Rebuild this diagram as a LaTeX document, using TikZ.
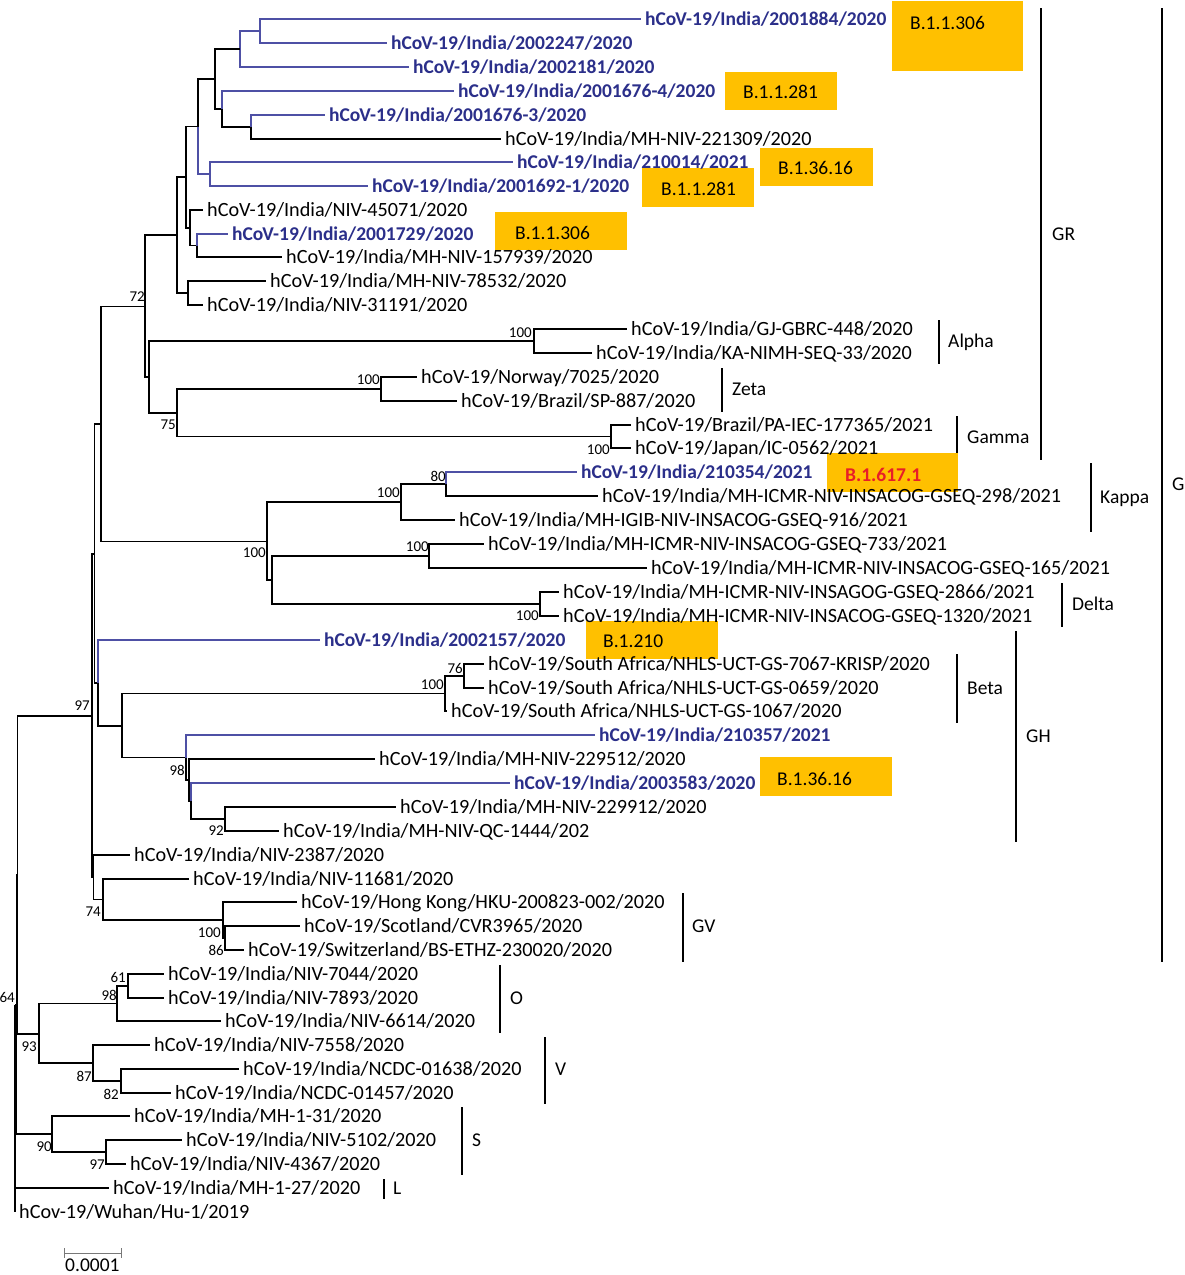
\documentclass[tikz,border=0pt]{standalone}
\usepackage{fontspec}
\setmainfont{Carlito}
\definecolor{bl}{RGB}{43,47,138}
\definecolor{bll}{RGB}{78,80,165}
\definecolor{orng}{RGB}{255,192,0}
\definecolor{redt}{RGB}{232,30,40}
\definecolor{scalegray}{RGB}{120,120,120}
\begin{document}
\begin{tikzpicture}[x=1pt,y=-1pt,
  br/.style={line width=1.4pt,black},
  bb/.style={line width=1.2pt,bll},
  lf/.style={anchor=base west,inner sep=0pt,xshift=4pt,yshift=-6.5pt,font=\fontsize{20.2}{22}\selectfont},
  lfb/.style={anchor=base west,inner sep=0pt,xshift=4pt,yshift=-6.5pt,font=\fontsize{19.5}{22}\selectfont\bfseries,text=bl},
  bs/.style={anchor=east,inner sep=0pt,font=\fontsize{15}{17}\selectfont},
  cl/.style={anchor=base west,inner sep=0pt,yshift=-6.5pt,font=\fontsize{19.5}{22}\selectfont},
  bar/.style={line width=1.3pt,black},
  obox/.style={fill=orng,draw=none,inner sep=0pt,anchor=north west},
  bt/.style={anchor=base west,inner sep=0pt,yshift=-6.5pt,font=\fontsize{19.5}{22}\selectfont}]
\useasboundingbox (0,0) rectangle (1184,1275);
\fill[white] (0,0) rectangle (1184,1275);

% ---------- orange lineage boxes ----------
\node[obox,minimum width=131pt,minimum height=70pt] (b1) at (892,1) {};
\node[obox,minimum width=112pt,minimum height=38pt] (b2) at (725,72) {};
\node[obox,minimum width=113pt,minimum height=38pt] (b3) at (760,148) {};
\node[obox,minimum width=112pt,minimum height=39pt] (b4) at (642,168) {};
\node[obox,minimum width=132pt,minimum height=38pt] (b5) at (495,212) {};
\node[obox,minimum width=131pt,minimum height=39pt] (b6) at (827,453) {};
\node[obox,minimum width=132pt,minimum height=38pt] (b7) at (586,621) {};
\node[obox,minimum width=132pt,minimum height=39pt] (b8) at (760,757) {};
\node[bt] (b1t) at (910,23) {B.1.1.306};
\node[bt] (b2t) at (743,92) {B.1.1.281};
\node[bt] (b3t) at (778,168) {B.1.36.16};
\node[bt] (b4t) at (661,189) {B.1.1.281};
\node[bt] (b5t) at (515,233) {B.1.1.306};
\node[bt,text=redt,font=\fontsize{19.5}{22}\selectfont\bfseries] (b6t) at (845,475) {B.1.617.1};
\node[bt] (b7t) at (603,641) {B.1.210};
\node[bt] (b8t) at (777,779) {B.1.36.16};

% ---------- leaf end points ----------
\coordinate (l1) at (641,19);
\coordinate (l2) at (387,43);
\coordinate (l3) at (409,67);
\coordinate (l4) at (454,91);
\coordinate (l5) at (325,115);
\coordinate (l6) at (501,139);
\coordinate (l7) at (513,162);
\coordinate (l8) at (368,186);
\coordinate (l9) at (203,210);
\coordinate (l10) at (228,234);
\coordinate (l11) at (282,257);
\coordinate (l12) at (266,281);
\coordinate (l13) at (203,305);
\coordinate (l14) at (627,329);
\coordinate (l15) at (592,353);
\coordinate (l16) at (417,377);
\coordinate (l17) at (457,401);
\coordinate (l18) at (631,425);
\coordinate (l19) at (631,448);
\coordinate (l20) at (577,472);
\coordinate (l21) at (598,496);
\coordinate (l22) at (455,520);
\coordinate (l23) at (484,544);
\coordinate (l24) at (647,568);
\coordinate (l25) at (559,592);
\coordinate (l26) at (559,616);
\coordinate (l27) at (320,640);
\coordinate (l28) at (484,664);
\coordinate (l29) at (484,688);
\coordinate (l30) at (447,711);
\coordinate (l31) at (595,735);
\coordinate (l32) at (375,759);
\coordinate (l33) at (510,783);
\coordinate (l34) at (396,807);
\coordinate (l35) at (279,831);
\coordinate (l36) at (130,855);
\coordinate (l37) at (189,879);
\coordinate (l38) at (297,902);
\coordinate (l39) at (300,926);
\coordinate (l40) at (244,950);
\coordinate (l41) at (164,974);
\coordinate (l42) at (164,998);
\coordinate (l43) at (221,1021);
\coordinate (l44) at (150,1045);
\coordinate (l45) at (239,1069);
\coordinate (l46) at (171,1093);
\coordinate (l47) at (130,1116);
\coordinate (l48) at (182,1140);
\coordinate (l49) at (126,1164);
\coordinate (l50) at (109,1188);
\coordinate (l51) at (15,1212);

% ---------- internal nodes ----------
\coordinate (nA) at (260,31);
\coordinate (nB) at (240,49);
\coordinate (nC) at (215,79);
\coordinate (nD) at (222,109);
\coordinate (nE) at (251,127);
\coordinate (nF) at (198,126.5);
\coordinate (nG) at (210,174);
\coordinate (nH) at (186,177);
\coordinate (nI) at (190,228);
\coordinate (nJ) at (197,245.5);
\coordinate (nK) at (177,235);
\coordinate (nL) at (188,293);
\coordinate (nM) at (145,306.5);
\coordinate (nN) at (149,377);
\coordinate (nAl) at (534,341);
\coordinate (nO) at (177,413);
\coordinate (nZe) at (381,389);
\coordinate (nGa) at (611,436.5);
\coordinate (nP) at (101,424);
\coordinate (nQ) at (267,541.5);
\coordinate (nR) at (401,502);
\coordinate (nS) at (446,484);
\coordinate (nT) at (272,580);
\coordinate (nU) at (429,556);
\coordinate (nV) at (540,604);
\coordinate (nG1) at (94.5,554);
\coordinate (nW) at (98,683);
\coordinate (nX) at (122,726);
\coordinate (nY) at (445,693.5);
\coordinate (nZ) at (464,676);
\coordinate (nAA) at (186,757.75);
\coordinate (nAB) at (189,780);
\coordinate (nAC) at (191,801);
\coordinate (nAD) at (225,819);
\coordinate (nG2) at (93.5,877.5);
\coordinate (nAE) at (103,899.5);
\coordinate (nAF) at (223,920);
\coordinate (nAG) at (225,938);
\coordinate (n97) at (92,716);
\coordinate (nR1) at (17.5,875);
\coordinate (nOV) at (39,1034);
\coordinate (nO98) at (117,1003.5);
\coordinate (nO61) at (128,986);
\coordinate (nV87) at (93,1063);
\coordinate (nV82) at (121,1081);
\coordinate (n64) at (16.5,1004.5);
\coordinate (nS90) at (52,1134);
\coordinate (nS97) at (106,1152);
\coordinate (nRoot) at (15,1004.5);

% ---------- branches ----------
\draw[bb] (nA) |- (l1);
\draw[bb] (nA) |- (l2);
\draw[bb] (nB) |- (nA);
\draw[bb] (nB) |- (l3);
\draw[br] (nC) |- (nB);
\draw[br] (nC) |- (nD);
\draw[bb] (nD) |- (l4);
\draw[br] (nD) |- (nE);
\draw[bb] (nE) |- (l5);
\draw[br] (nE) |- (l6);
\draw[br] (nF) |- (nC);
\draw[bb] (nF) |- (nG);
\draw[bb] (nG) |- (l7);
\draw[bb] (nG) |- (l8);
\draw[br] (nH) |- (nF);
\draw[br] (nH) |- (nI);
\draw[br] (nI) |- (l9);
\draw[br] (nI) |- (nJ);
\draw[bb] (nJ) |- (l10);
\draw[br] (nJ) |- (l11);
\draw[br] (nK) |- (nH);
\draw[br] (nK) |- (nL);
\draw[br] (nL) |- (l12);
\draw[br] (nL) |- (l13);
\draw[br] (nM) |- (nK);
\draw[br] (nM) |- (nN);
\draw[br] (nN) |- (nAl);
\draw[br] (nN) |- (nO);
\draw[br] (nAl) |- (l14);
\draw[br] (nAl) |- (l15);
\draw[br] (nO) |- (nZe);
\draw[br] (nO) |- (nGa);
\draw[br] (nZe) |- (l16);
\draw[br] (nZe) |- (l17);
\draw[br] (nGa) |- (l18);
\draw[br] (nGa) |- (l19);
\draw[br] (nP) |- (nM);
\draw[br] (nP) |- (nQ);
\draw[br] (nQ) |- (nR);
\draw[br] (nQ) |- (nT);
\draw[br] (nR) |- (nS);
\draw[br] (nR) |- (l22);
\draw[bb] (nS) |- (l20);
\draw[br] (nS) |- (l21);
\draw[br] (nT) |- (nU);
\draw[br] (nT) |- (nV);
\draw[br] (nU) |- (l23);
\draw[br] (nU) |- (l24);
\draw[br] (nV) |- (l25);
\draw[br] (nV) |- (l26);
\draw[br] (nG1) |- (nP);
\draw[br] (nG1) |- (nW);
\draw[bb] (nW) |- (l27);
\draw[br] (nW) |- (nX);
\draw[br] (nX) |- (nY);
\draw[br] (nX) |- (nAA);
\draw[br] (nY) |- (nZ);
\draw[br] (nY) |- (l30);
\draw[br] (nZ) |- (l28);
\draw[br] (nZ) |- (l29);
\draw[bb] (nAA) |- (l31);
\draw[br] (nAA) |- (nAB);
\draw[br] (nAB) |- (l32);
\draw[br] (nAB) |- (nAC);
\draw[bb] (nAC) |- (l33);
\draw[br] (nAC) |- (nAD);
\draw[br] (nAD) |- (l34);
\draw[br] (nAD) |- (l35);
\draw[br] (nG2) |- (l36);
\draw[br] (nG2) |- (nAE);
\draw[br] (nAE) |- (l37);
\draw[br] (nAE) |- (nAF);
\draw[br] (nAF) |- (l38);
\draw[br] (nAF) |- (nAG);
\draw[br] (nAG) |- (l39);
\draw[br] (nAG) |- (l40);
\draw[br] (n97) |- (nG1);
\draw[br] (n97) |- (nG2);
\draw[br] (nR1) |- (n97);
\draw[br] (nR1) |- (nOV);
\draw[br] (nOV) |- (nO98);
\draw[br] (nOV) |- (nV87);
\draw[br] (nO98) |- (nO61);
\draw[br] (nO98) |- (l43);
\draw[br] (nO61) |- (l41);
\draw[br] (nO61) |- (l42);
\draw[br] (nV87) |- (l44);
\draw[br] (nV87) |- (nV82);
\draw[br] (nV82) |- (l45);
\draw[br] (nV82) |- (l46);
\draw[br] (n64) |- (nR1);
\draw[br] (n64) |- (nS90);
\draw[br] (nS90) |- (l47);
\draw[br] (nS90) |- (nS97);
\draw[br] (nS97) |- (l48);
\draw[br] (nS97) |- (l49);
\draw[br] (nRoot) |- (n64);
\draw[br] (nRoot) |- (l50);
\draw[br] (nRoot) |- (l51);

% ---------- leaf labels ----------
\node[lfb] (t1) at (l1) {hCoV-19/India/2001884/2020};
\node[lfb] (t2) at (l2) {hCoV-19/India/2002247/2020};
\node[lfb] (t3) at (l3) {hCoV-19/India/2002181/2020};
\node[lfb] (t4) at (l4) {hCoV-19/India/2001676-4/2020};
\node[lfb] (t5) at (l5) {hCoV-19/India/2001676-3/2020};
\node[lf] (t6) at (l6) {hCoV-19/India/MH-NIV-221309/2020};
\node[lfb] (t7) at (l7) {hCoV-19/India/210014/2021};
\node[lfb] (t8) at (l8) {hCoV-19/India/2001692-1/2020};
\node[lf] (t9) at (l9) {hCoV-19/India/NIV-45071/2020};
\node[lfb] (t10) at (l10) {hCoV-19/India/2001729/2020};
\node[lf] (t11) at (l11) {hCoV-19/India/MH-NIV-157939/2020};
\node[lf] (t12) at (l12) {hCoV-19/India/MH-NIV-78532/2020};
\node[lf] (t13) at (l13) {hCoV-19/India/NIV-31191/2020};
\node[lf] (t14) at (l14) {hCoV-19/India/GJ-GBRC-448/2020};
\node[lf] (t15) at (l15) {hCoV-19/India/KA-NIMH-SEQ-33/2020};
\node[lf] (t16) at (l16) {hCoV-19/Norway/7025/2020};
\node[lf] (t17) at (l17) {hCoV-19/Brazil/SP-887/2020};
\node[lf] (t18) at (l18) {hCoV-19/Brazil/PA-IEC-177365/2021};
\node[lf] (t19) at (l19) {hCoV-19/Japan/IC-0562/2021};
\node[lfb] (t20) at (l20) {hCoV-19/India/210354/2021};
\node[lf] (t21) at (l21) {hCoV-19/India/MH-ICMR-NIV-INSACOG-GSEQ-298/2021};
\node[lf] (t22) at (l22) {hCoV-19/India/MH-IGIB-NIV-INSACOG-GSEQ-916/2021};
\node[lf] (t23) at (l23) {hCoV-19/India/MH-ICMR-NIV-INSACOG-GSEQ-733/2021};
\node[lf] (t24) at (l24) {hCoV-19/India/MH-ICMR-NIV-INSACOG-GSEQ-165/2021};
\node[lf] (t25) at (l25) {hCoV-19/India/MH-ICMR-NIV-INSAGOG-GSEQ-2866/2021};
\node[lf] (t26) at (l26) {hCoV-19/India/MH-ICMR-NIV-INSACOG-GSEQ-1320/2021};
\node[lfb] (t27) at (l27) {hCoV-19/India/2002157/2020};
\node[lf] (t28) at (l28) {hCoV-19/South Africa/NHLS-UCT-GS-7067-KRISP/2020};
\node[lf] (t29) at (l29) {hCoV-19/South Africa/NHLS-UCT-GS-0659/2020};
\node[lf] (t30) at (l30) {hCoV-19/South Africa/NHLS-UCT-GS-1067/2020};
\node[lfb] (t31) at (l31) {hCoV-19/India/210357/2021};
\node[lf] (t32) at (l32) {hCoV-19/India/MH-NIV-229512/2020};
\node[lfb] (t33) at (l33) {hCoV-19/India/2003583/2020};
\node[lf] (t34) at (l34) {hCoV-19/India/MH-NIV-229912/2020};
\node[lf] (t35) at (l35) {hCoV-19/India/MH-NIV-QC-1444/202};
\node[lf] (t36) at (l36) {hCoV-19/India/NIV-2387/2020};
\node[lf] (t37) at (l37) {hCoV-19/India/NIV-11681/2020};
\node[lf] (t38) at (l38) {hCoV-19/Hong Kong/HKU-200823-002/2020};
\node[lf] (t39) at (l39) {hCoV-19/Scotland/CVR3965/2020};
\node[lf] (t40) at (l40) {hCoV-19/Switzerland/BS-ETHZ-230020/2020};
\node[lf] (t41) at (l41) {hCoV-19/India/NIV-7044/2020};
\node[lf] (t42) at (l42) {hCoV-19/India/NIV-7893/2020};
\node[lf] (t43) at (l43) {hCoV-19/India/NIV-6614/2020};
\node[lf] (t44) at (l44) {hCoV-19/India/NIV-7558/2020};
\node[lf] (t45) at (l45) {hCoV-19/India/NCDC-01638/2020};
\node[lf] (t46) at (l46) {hCoV-19/India/NCDC-01457/2020};
\node[lf] (t47) at (l47) {hCoV-19/India/MH-1-31/2020};
\node[lf] (t48) at (l48) {hCoV-19/India/NIV-5102/2020};
\node[lf] (t49) at (l49) {hCoV-19/India/NIV-4367/2020};
\node[lf] (t50) at (l50) {hCoV-19/India/MH-1-27/2020};
\node[lf] (t51) at (l51) {hCov-19/Wuhan/Hu-1/2019};

% ---------- bootstrap values ----------
\node[bs] (s72) at (145,297) {72};
\node[bs] (s100a) at (532,333) {100};
\node[bs] (s100z) at (380,380) {100};
\node[bs] (s75) at (176,425) {75};
\node[bs] (s100g) at (610,450) {100};
\node[bs] (s80) at (446,476) {80};
\node[bs] (s100k) at (400,493) {100};
\node[bs] (s100q) at (266,553) {100};
\node[bs] (s100u) at (429,547) {100};
\node[bs] (s100d) at (539,616) {100};
\node[bs] (s76) at (463,668) {76};
\node[bs] (s100b) at (444,685) {100};
\node[bs] (s98) at (185,770) {98};
\node[bs] (s92) at (224,831) {92};
\node[bs] (s97) at (90,706) {97};
\node[bs] (s74) at (101,912) {74};
\node[bs] (s100v) at (221,933) {100};
\node[bs] (s86) at (224,950) {86};
\node[bs] (s64) at (15,997) {64};
\node[bs] (s61) at (126,977) {61};
\node[bs] (s98o) at (117,995) {98};
\node[bs] (s93) at (37,1047) {93};
\node[bs] (s87) at (92,1076) {87};
\node[bs] (s82) at (119,1094) {82};
\node[bs] (s90) at (52,1147) {90};
\node[bs] (s97s) at (105,1165) {97};

% ---------- clade bars ----------
\coordinate (grT) at (1041,8);   \coordinate (grB) at (1041,460);
\coordinate (gT) at (1162,8);    \coordinate (gB) at (1162,962);
\coordinate (alT) at (939,320);  \coordinate (alB) at (939,364);
\coordinate (zeT) at (722,368);  \coordinate (zeB) at (722,412);
\coordinate (gaT) at (957,416);  \coordinate (gaB) at (957,453);
\coordinate (kaT) at (1091,463); \coordinate (kaB) at (1091,532);
\coordinate (deT) at (1062,583); \coordinate (deB) at (1062,627);
\coordinate (ghT) at (1016,631); \coordinate (ghB) at (1016,842);
\coordinate (beT) at (957,654);  \coordinate (beB) at (957,723);
\coordinate (gvT) at (683,893);  \coordinate (gvB) at (683,962);
\coordinate (oT) at (500,965);   \coordinate (oB) at (500,1033);
\coordinate (vT) at (545,1037);  \coordinate (vB) at (545,1104);
\coordinate (sT) at (462,1107);  \coordinate (sB) at (462,1175);
\coordinate (lT) at (384,1179);  \coordinate (lB) at (384,1199);
\draw[bar] (grT) -- (grB);
\draw[bar] (gT) -- (gB);
\draw[bar] (alT) -- (alB);
\draw[bar] (zeT) -- (zeB);
\draw[bar] (gaT) -- (gaB);
\draw[bar] (kaT) -- (kaB);
\draw[bar] (deT) -- (deB);
\draw[bar] (ghT) -- (ghB);
\draw[bar] (beT) -- (beB);
\draw[bar] (gvT) -- (gvB);
\draw[bar] (oT) -- (oB);
\draw[bar] (vT) -- (vB);
\draw[bar] (sT) -- (sB);
\draw[bar] (lT) -- (lB);
\node[cl] (cGR) at (1052,234) {GR};
\node[cl] (cG) at (1172,484) {G};
\node[cl] (cAl) at (948,341) {Alpha};
\node[cl] (cZe) at (732,389) {Zeta};
\node[cl] (cGa) at (967,437) {Gamma};
\node[cl] (cKa) at (1100,497) {Kappa};
\node[cl] (cDe) at (1072,604) {Delta};
\node[cl] (cGH) at (1026,736) {GH};
\node[cl] (cBe) at (967,688) {Beta};
\node[cl] (cGV) at (692,926) {GV};
\node[cl] (cO) at (510,998) {O};
\node[cl] (cV) at (555,1069) {V};
\node[cl] (cS) at (472,1140) {S};
\node[cl] (cL) at (393,1188) {L};

% ---------- scale bar ----------
\coordinate (sbL) at (64,1253);
\coordinate (sbR) at (121,1253);
\draw[scalegray,line width=1pt] (sbL) -- (sbR);
\draw[scalegray,line width=1pt] ([yshift=5pt]sbL) -- ([yshift=-5pt]sbL);
\draw[scalegray,line width=1pt] ([yshift=5pt]sbR) -- ([yshift=-5pt]sbR);
\node[bt] (sbt) at (65,1265) {0.0001};
\end{tikzpicture}
\end{document}
